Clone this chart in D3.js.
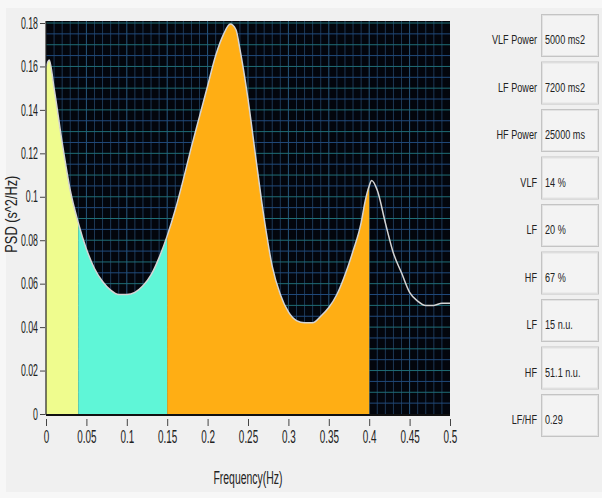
<!DOCTYPE html>
<html>
<head>
<meta charset="utf-8">
<script src="https://cdn.jsdelivr.net/npm/d3@7"></script>
<style>
  html, body { margin: 0; padding: 0; background: #f7f7f7; }
  svg { display: block; }
  text { font-family: "Liberation Sans", Arial, sans-serif; fill: #222; }
</style>
</head>
<body>
<svg id="chart" width="602" height="498"></svg>
<script>
// Power spectral density of the RR-interval series
const freq = [0.000, 0.004, 0.010, 0.020, 0.030, 0.040, 0.050, 0.060, 0.070, 0.080,
              0.090, 0.100, 0.110, 0.120, 0.130, 0.140, 0.150, 0.160, 0.170, 0.180,
              0.190, 0.200, 0.210, 0.220, 0.228, 0.235, 0.240, 0.250, 0.260, 0.270,
              0.280, 0.290, 0.300, 0.310, 0.320, 0.330, 0.340, 0.350, 0.360, 0.370,
              0.380, 0.390, 0.395, 0.400, 0.403, 0.410, 0.420, 0.430, 0.440, 0.450,
              0.460, 0.470, 0.480, 0.490, 0.500];
const psd  = [0.160, 0.163, 0.150, 0.125, 0.103, 0.088, 0.076, 0.067, 0.061, 0.057,
              0.055, 0.055, 0.056, 0.059, 0.064, 0.072, 0.082, 0.094, 0.108, 0.123,
              0.137, 0.151, 0.165, 0.175, 0.1795, 0.177, 0.168, 0.145, 0.117, 0.090,
              0.068, 0.055, 0.047, 0.043, 0.042, 0.042, 0.045, 0.049, 0.055, 0.064,
              0.075, 0.088, 0.098, 0.105, 0.1075, 0.103, 0.088, 0.074, 0.065, 0.056,
              0.052, 0.050, 0.050, 0.051, 0.051];

// Frequency bands (Hz)
const bandNames  = ["VLF", "LF", "HF"];
const bandEdges  = [0, 0.04, 0.15, 0.40];
const bandColors = ["#effc8e", "#5ff6d7", "#ffae14"];

// Axis ticks
const xTicks = [0, 0.05, 0.1, 0.15, 0.2, 0.25, 0.3, 0.35, 0.4, 0.45, 0.5];
const xTickLabels = ["0", "0.05", "0.1", "0.15", "0.2", "0.25", "0.3", "0.35", "0.4", "0.45", "0.5"];
const yTicks = [0, 0.02, 0.04, 0.06, 0.08, 0.1, 0.12, 0.14, 0.16, 0.18];
const yTickLabels = ["0", "0.02", "0.04", "0.06", "0.08", "0.1", "0.12", "0.14", "0.16", "0.18"];

// Summary indicators
const metricLabels = ["VLF Power", "LF Power", "HF Power", "VLF", "LF", "HF", "LF", "HF", "LF/HF"];
const metricValues = ["5000 ms2", "7200 ms2", "25000 ms", "14 %", "20 %", "67 %", "15 n.u.", "51.1 n.u.", "0.29"];

const svg = d3.select("#chart");

// panel background
svg.append("rect").attr("x", 6).attr("y", 8).attr("width", 596).attr("height", 484).attr("fill", "#f0f0f0");

const x = d3.scaleLinear().domain([0, 0.5]).range([46, 450]);
const y = d3.scaleLinear().domain([0, 0.18]).range([414, 23]);

// plot area
svg.append("rect")
  .attr("x", x(0)).attr("y", y(0.18) - 2)
  .attr("width", x(0.5) - x(0)).attr("height", y(0) - y(0.18) + 2)
  .attr("fill", "#03060d");

// grid
const grid = svg.append("g");
grid.selectAll("line.v").data(d3.range(1, 50)).join("line")
  .attr("x1", d => x(d / 100)).attr("x2", d => x(d / 100))
  .attr("y1", y(0.18) - 2).attr("y2", y(0))
  .attr("stroke", d => d % 5 === 0 ? "#28587e" : "#1d3856").attr("stroke-width", 1);
grid.selectAll("line.h").data(d3.range(1, 37)).join("line")
  .attr("y1", d => y(d * 0.005)).attr("y2", d => y(d * 0.005))
  .attr("x1", x(0)).attr("x2", x(0.5))
  .attr("stroke", d => d % 2 === 0 ? "#1f6e76" : "#204a7c").attr("stroke-width", 1);

// band areas
const pts = freq.map((f, i) => [f, psd[i]]);
const area = d3.area().x(d => x(d[0])).y0(y(0)).y1(d => y(d[1])).curve(d3.curveMonotoneX);
bandNames.forEach((name, i) => {
  const lo = bandEdges[i], hi = bandEdges[i + 1];
  const seg = pts.filter(p => p[0] >= lo - 1e-9 && p[0] <= hi + 1e-9);
  svg.append("path").datum(seg).attr("d", area).attr("fill", bandColors[i]);
});

// spectrum line
const line = d3.line().x(d => x(d[0])).y(d => y(d[1])).curve(d3.curveMonotoneX);
svg.append("path").datum(pts).attr("d", line)
  .attr("fill", "none").attr("stroke", "#d4d4d4").attr("stroke-width", 1.5);

// condensed text helper
const SX = 0.55;
function squeeze(sel, sx) {
  sel.each(function () {
    const t = d3.select(this);
    const tx = +t.attr("x") || 0;
    t.attr("x", tx / sx).attr("transform", `scale(${sx},1)`);
  });
}

// axes
const xAxis = d3.axisBottom(x).tickValues(xTicks).tickFormat((d, i) => xTickLabels[i])
  .tickSize(7).tickPadding(4);
const gx = svg.append("g").attr("transform", `translate(0,${y(0) + 5})`).call(xAxis);
gx.select(".domain").remove();
gx.selectAll(".tick line").attr("stroke", "#444");
gx.selectAll(".tick text").attr("font-size", 18).attr("fill", "#333").call(squeeze, SX);

const yAxis = d3.axisLeft(y).tickValues(yTicks).tickFormat((d, i) => yTickLabels[i])
  .tickSize(5).tickPadding(2);
const gy = svg.append("g").attr("transform", `translate(${x(0) - 1},0)`).call(yAxis);
gy.select(".domain").remove();
gy.selectAll(".tick line").attr("stroke", "#444");
gy.selectAll(".tick text").attr("font-size", 16).attr("fill", "#333").call(squeeze, SX);

// axis lines
svg.append("line").attr("x1", x(0)).attr("x2", x(0.5)).attr("y1", y(0) + 1).attr("y2", y(0) + 1)
  .attr("stroke", "#111").attr("stroke-width", 2);
svg.append("line").attr("x1", x(0)).attr("x2", x(0)).attr("y1", y(0.18) - 2).attr("y2", y(0) + 1)
  .attr("stroke", "#222").attr("stroke-width", 1.2);

// axis titles
svg.append("text").attr("transform", `translate(${(x(0) + x(0.5)) / 2},484) scale(${SX},1)`)
  .attr("text-anchor", "middle").attr("font-size", 19).attr("fill", "#333").text("Frequency(Hz)");
svg.append("text").attr("transform", `translate(17,${y(0.092)}) rotate(-90) scale(0.8,1)`)
  .attr("text-anchor", "middle").attr("font-size", 16).attr("fill", "#333").text("PSD (s^2/Hz)");

// indicator panel
const panel = svg.append("g");
const rowY = i => 14 + i * 47.5;
metricLabels.forEach((lab, i) => {
  const g = panel.append("g").attr("transform", `translate(0,${rowY(i)})`);
  g.append("rect").attr("x", 541.5).attr("y", 0.5).attr("width", 57).attr("height", 42)
    .attr("fill", "#f3f3f3").attr("stroke", "#c4c4c4");
  g.append("rect").attr("x", 542.5).attr("y", 1.5).attr("width", 55).attr("height", 40)
    .attr("fill", "none").attr("stroke", "#e2e2e2");
  g.append("text").attr("transform", `translate(537,30) scale(0.7,1)`)
    .attr("text-anchor", "end").attr("font-size", 13).attr("fill", "#333").text(lab);
  g.append("text").attr("transform", `translate(545,30) scale(0.7,1)`)
    .attr("font-size", 13).attr("fill", "#333").text(metricValues[i]);
});
</script>
</body>
</html>
